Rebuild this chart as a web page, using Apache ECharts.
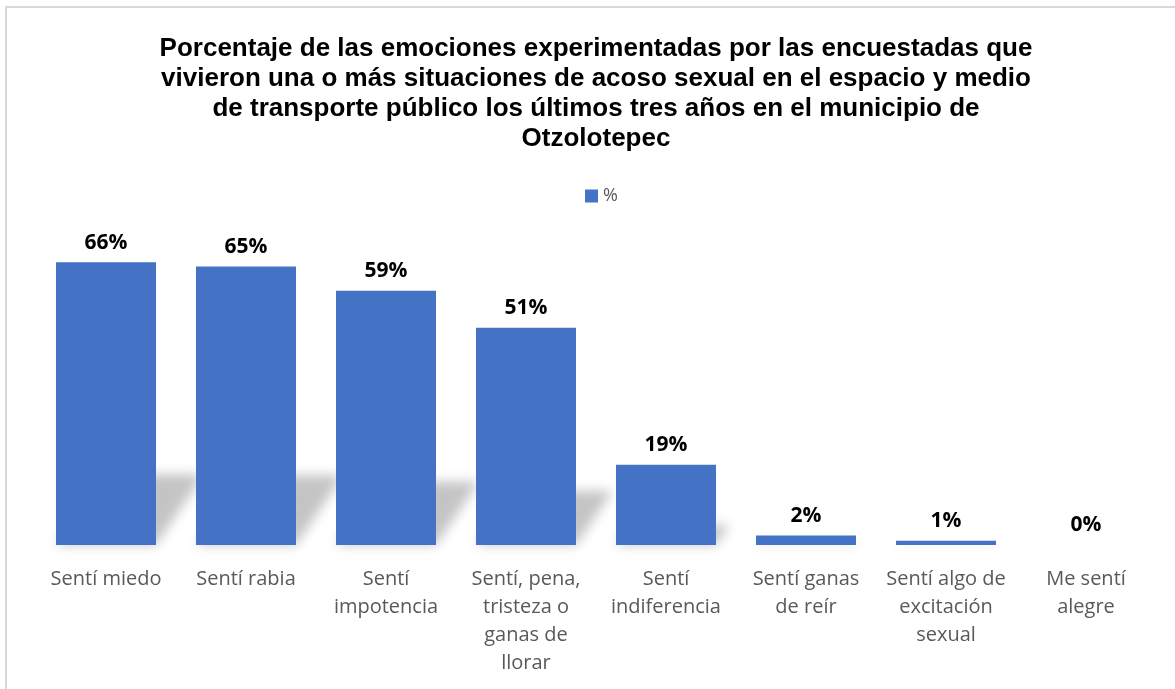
<!DOCTYPE html>
<html>
<head>
<meta charset="utf-8">
<script src="https://cdn.jsdelivr.net/npm/echarts@6/dist/echarts.min.js"></script>
<style>
  html, body { margin: 0; padding: 0; background: #fff; }
  #chart { width: 1175px; height: 689px; }
</style>
</head>
<body>
<div id="chart"></div>
<script>
var categories = ['Sentí miedo', 'Sentí rabia', 'Sentí\nimpotencia', 'Sentí, pena,\ntristeza o\nganas de\nllorar',
    'Sentí\nindiferencia', 'Sentí ganas\nde reír', 'Sentí algo de\nexcitación\nsexual', 'Me sentí\nalegre'];
var values = [66, 65, 59.3, 50.7, 18.7, 2.2, 1, 0];
var seriesName = '%';
var titleText = 'Porcentaje de las emociones experimentadas por las encuestadas que\n' +
    'vivieron una o más situaciones de acoso sexual en el espacio y medio\n' +
    'de transporte público los últimos tres años en el municipio de\n' +
    'Otzolotepec';

var shadowData = values.map(function (v, i) { return [i, v]; });

// sombra difusa tipo perspectiva detrás de cada barra
// (se dibuja la forma fuera de pantalla y solo se ve su sombra)
var OFF = 3000;
function renderShadow(params, api) {
    var idx = api.value(0);
    var base = api.coord([idx, 0]);
    var top = api.coord([idx, api.value(1)]);
    var bw = api.size([1, 0])[0] * 100 / 140;
    var h = (base[1] - top[1]) * 0.25;
    var dx = h * 0.68;
    var x0 = base[0] - bw / 2 + OFF, x1 = base[0] + bw / 2 + OFF, by = base[1];
    return {
        type: 'polygon',
        shape: { points: [[x0, by], [x1, by], [x1 + dx, by - h], [x0 + dx, by - h]] },
        style: {
            fill: '#000',
            shadowBlur: 12,
            shadowOffsetX: -OFF,
            shadowColor: 'rgba(0,0,0,0.23)'
        }
    };
}

var dom = document.getElementById('chart');
var myChart = echarts.init(dom);

var option = {
    animation: false,
    backgroundColor: '#fff',
    graphic: [{
        type: 'rect',
        shape: { x: 6, y: 7, width: 1200, height: 700 },
        style: { fill: 'none', stroke: '#d9d9d9', lineWidth: 2 },
        silent: true
    }],
    title: {
        text: titleText,
        left: 591,
        top: 29,
        textAlign: 'center',
        textStyle: {
            fontFamily: 'Liberation Sans',
            fontWeight: 'bold',
            fontSize: 26,
            lineHeight: 30,
            color: '#000'
        }
    },
    legend: {
        data: [seriesName],
        left: 580,
        top: 182,
        itemWidth: 13,
        itemHeight: 13,
        itemGap: 5,
        icon: 'rect',
        textStyle: { fontFamily: 'Open Sans', fontSize: 18, color: '#595959' }
    },
    grid: {
        left: 36,
        top: 245,
        width: 1120,
        height: 300
    },
    xAxis: {
        type: 'category',
        data: categories,
        axisLine: { show: false },
        axisTick: { show: false },
        axisLabel: {
            interval: 0,
            margin: 20,
            fontFamily: 'Open Sans',
            fontSize: 20,
            lineHeight: 28,
            color: '#595959'
        }
    },
    yAxis: {
        type: 'value',
        min: 0,
        max: 70,
        show: false,
        splitLine: { show: false }
    },
    series: [
        {
            type: 'custom',
            name: 'sombra',
            renderItem: renderShadow,
            data: shadowData,
            encode: { x: 0, y: 1 },
            clip: false,
            z: 1,
            silent: true
        },
        {
            name: seriesName,
            type: 'bar',
            data: values,
            barWidth: 100,
            z: 2,
            itemStyle: { color: '#4472C4' },
            label: {
                show: true,
                position: 'top',
                distance: 9,
                fontFamily: 'Open Sans',
                fontWeight: 'bold',
                fontSize: 21,
                color: '#000',
                formatter: function (p) { return Math.round(p.value) + '%'; }
            }
        }
    ]
};

myChart.setOption(option);
</script>
</body>
</html>
